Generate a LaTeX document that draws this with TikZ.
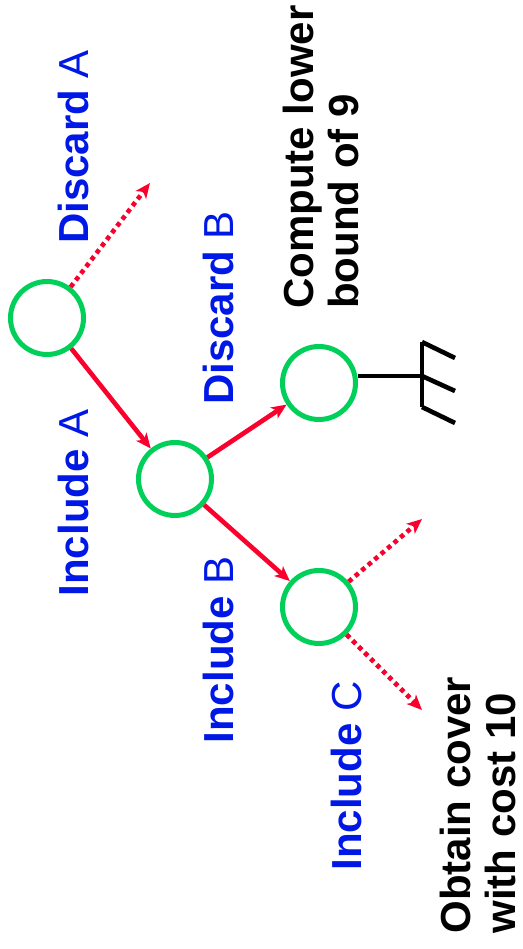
\documentclass[tikz,border=0pt]{standalone}
\usepackage{fontspec}
\setmainfont{Liberation Sans}
\usetikzlibrary{arrows.meta}
\definecolor{nodegreen}{RGB}{0,208,90}
\definecolor{edgered}{RGB}{250,0,45}
\definecolor{lblblue}{RGB}{0,24,230}
\begin{document}
\begin{tikzpicture}[x=1pt,y=-1pt,
  treenode/.style={circle,draw=nodegreen,line width=5pt,minimum size=73pt,inner sep=0pt},
  branch/.style={draw=edgered,line width=4.6pt,-{Stealth[length=15pt,width=13pt,inset=4pt]}},
  openbranch/.style={branch,dash pattern=on 4.5pt off 4pt},
  lbl/.style={rotate=90,inner sep=0pt,text=lblblue,font=\fontsize{42}{47}\selectfont},
  note/.style={rotate=90,inner sep=0pt,align=left,font=\fontsize{42}{45}\selectfont\bfseries},
  groundline/.style={line width=4.6pt,draw=black}]
\useasboundingbox (0,0) rectangle (522,949);
% tree nodes
\node[treenode] (root) at (47,318) {};
\node[treenode] (n2) at (175,479) {};
\node[treenode] (n3) at (319,383) {};
\node[treenode] (n4) at (319,607) {};
% free ends of open branches
\coordinate (ea) at (150,183);
\coordinate (ec1) at (422,519);
\coordinate (ec2) at (422,710);
% edges
\draw[branch] (root) -- (n2);
\draw[branch] (n2) -- (n3);
\draw[branch] (n2) -- (n4);
\draw[openbranch] (root) -- (ea);
\draw[openbranch] (n4) -- (ec1);
\draw[openbranch] (n4) -- (ec2);
% ground symbol (bound)
\coordinate (gm) at (422,376);
\coordinate (gt) at (422,342);
\coordinate (gb) at (422,407);
\coordinate (gt2) at (455,358);
\coordinate (gm2) at (455,391);
\coordinate (gb2) at (455,423);
\draw[groundline] (n3.east |- gm) -- (gm);
\draw[groundline] (gt) -- (gb);
\draw[groundline] (gt) -- (gt2);
\draw[groundline] (gm) -- (gm2);
\draw[groundline] (gb) -- (gb2);
% labels
\node[lbl] (la) at (73,147) {\textbf{Discard} A};
\node[lbl] (li) at (73,503) {\textbf{Include} A};
\node[lbl] (ldb) at (218,308) {\textbf{Discard} B};
\node[lbl] (lib) at (218,650) {\textbf{Include} B};
\node[lbl] (lic) at (346,776) {\textbf{Include} C};
\node[note] (cl) at (321,157) {Compute lower\\bound of 9};
\node[note] (oc) at (478,805) {Obtain cover\\with cost 10};
\end{tikzpicture}
\end{document}
